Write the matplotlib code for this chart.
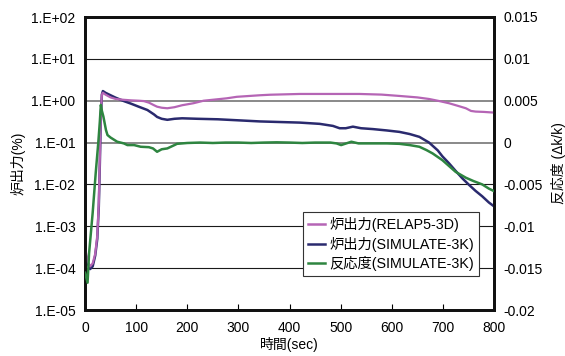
import matplotlib
matplotlib.use("Agg")
import matplotlib.pyplot as plt
from matplotlib.lines import Line2D
from matplotlib.ticker import FixedLocator, NullLocator

plt.rcParams['font.family'] = ['Liberation Sans', 'Noto Sans CJK JP', 'DejaVu Sans']

# Reactor power, RELAP5-3D (%)
t_relap = [0, 5, 10, 15, 20, 24, 27, 29, 31, 33, 35, 40, 50, 60, 76, 90, 105, 115,
           125, 135, 141, 150, 161, 175, 190, 212, 232, 277, 297, 342, 362, 420,
           498, 537, 580, 615, 650, 673, 695, 712, 730, 745, 755, 764, 780, 800]
p_relap = [3e-4, 1.5e-4, 1.1e-4, 1.3e-4, 2.2e-4, 6e-4, 3.5e-3, 4e-2, 0.5, 1.4, 1.55,
           1.4, 1.2, 1.1, 1.05, 1.02, 1.0, 0.98, 0.9, 0.78, 0.72, 0.68, 0.66, 0.7,
           0.78, 0.87, 1.0, 1.14, 1.24, 1.35, 1.39, 1.45, 1.45, 1.45, 1.4, 1.3,
           1.2, 1.1, 0.97, 0.87, 0.75, 0.66, 0.57, 0.55, 0.54, 0.52]

# Reactor power, SIMULATE-3K (%)
t_sim = [0, 5, 10, 15, 20, 24, 27, 29, 31, 33, 35, 40, 50, 60, 76, 90, 105, 122,
         135, 141, 150, 161, 175, 190, 220, 260, 300, 342, 380, 420, 459, 485,
         498, 510, 524, 540, 563, 590, 615, 635, 654, 673, 690, 699, 712, 725,
         738, 751, 764, 777, 790, 800]
p_sim = [2.5e-4, 1.3e-4, 9.5e-5, 1.1e-4, 2.0e-4, 5e-4, 3e-3, 3e-2, 0.4, 1.4, 1.7,
         1.55, 1.35, 1.18, 0.98, 0.85, 0.72, 0.6, 0.47, 0.41, 0.37, 0.35, 0.37,
         0.38, 0.37, 0.36, 0.34, 0.32, 0.31, 0.30, 0.28, 0.25, 0.22, 0.22, 0.24,
         0.22, 0.21, 0.195, 0.18, 0.16, 0.137, 0.10, 0.065, 0.047, 0.032, 0.021,
         0.014, 0.0098, 0.007, 0.0052, 0.0037, 0.003]

# Reactivity, SIMULATE-3K (dk/k)
t_rho = [0, 5, 8, 15, 21, 26, 29, 31, 33, 36, 41, 44, 50, 63, 76, 83, 96, 109, 125,
         133, 141, 150, 161, 175, 180, 200, 225, 250, 275, 300, 325, 350, 375, 400,
         425, 450, 480, 492, 501, 511, 521, 535, 560, 590, 615, 635, 654, 668,
         680, 699, 712, 725, 745, 760, 777, 790, 800]
rho = [-0.01555, -0.01674, -0.0132, -0.0084, -0.0036, 0.0, 0.0025, 0.0045, 0.0038,
       0.0031, 0.0015, 0.0009, 0.0006, 0.0001, -0.0001, -0.0003, -0.0003, -0.0005,
       -0.00055, -0.0007, -0.0011, -0.0008, -0.0007, -0.0003, -0.00015, -0.00005,
       0.0, -0.00005, 0.0, 0.0, -0.00005, 0.0, 0.00003, 0.0, -0.00005, 0.0, 0.0,
       -0.0001, -0.0003, -0.0001, 0.0001, -0.0001, -0.0001, -0.0001, -0.00015,
       -0.0003, -0.0005, -0.0009, -0.0013, -0.0021, -0.0028, -0.0035, -0.0042,
       -0.0046, -0.005, -0.0055, -0.0058]

x_ticks = [0, 100, 200, 300, 400, 500, 600, 700, 800]
left_ticks = [1e-5, 1e-4, 1e-3, 1e-2, 1e-1, 1e0, 1e1, 1e2]
left_labels = ["1.E-05", "1.E-04", "1.E-03", "1.E-02", "1.E-01", "1.E+00",
               "1.E+01", "1.E+02"]
right_ticks = [-0.02, -0.015, -0.01, -0.005, 0.0, 0.005, 0.01, 0.015]
right_labels = ["-0.02", "-0.015", "-0.01", "-0.005", "0", "0.005", "0.01", "0.015"]

labels = ["炉出力(RELAP5-3D)", "炉出力(SIMULATE-3K)", "反応度(SIMULATE-3K)"]
colors = ["#B565B5", "#2A2A6E", "#2E8540"]

fig = plt.figure(figsize=(5.65, 3.56), dpi=100)
ax = fig.add_axes([85 / 565, 1 - 310 / 356, 409 / 565, 293 / 356])
ax2 = ax.twinx()

# horizontal reference lines at each decade
for v in left_ticks[1:-1]:
    if v in (1e0, 1e-1):
        ax.axhline(v, color="#808080", lw=1.3, zorder=1)
    else:
        ax.axhline(v, color="#1a1a1a", lw=0.8, zorder=1)

ax.plot(t_sim, p_sim, color=colors[1], lw=1.8, zorder=3)
ax.plot(t_relap, p_relap, color=colors[0], lw=1.6, zorder=4)
ax2.plot(t_rho, rho, color=colors[2], lw=1.8, zorder=3)

ax.set_yscale("log")
ax.set_ylim(1e-5, 1e2)
ax.set_xlim(0, 800)
ax2.set_ylim(-0.02, 0.015)

ax.xaxis.set_major_locator(FixedLocator(x_ticks))
ax.set_xticklabels([str(v) for v in x_ticks])
ax.yaxis.set_major_locator(FixedLocator(left_ticks))
ax.yaxis.set_minor_locator(NullLocator())
ax.set_yticklabels(left_labels)
ax2.yaxis.set_major_locator(FixedLocator(right_ticks))
ax2.set_yticklabels(right_labels)

ax.tick_params(axis="x", direction="in", length=4, width=0.8, labelsize=10, pad=8)
ax.tick_params(axis="y", length=0, labelsize=10, pad=7)
ax2.tick_params(axis="y", length=0, labelsize=10, pad=7)

for a in (ax, ax2):
    for s in a.spines.values():
        s.set_linewidth(2.0)
        s.set_color("#111111")

ax.set_xlabel("時間(sec)", fontsize=10, labelpad=1)
ax.set_ylabel("炉出力(%)", fontsize=10, labelpad=4)
ax2.set_ylabel("反応度 (Δk/k)", fontsize=10, labelpad=6)

handles = [Line2D([], [], color=c, lw=1.8) for c in colors]
leg = ax2.legend(handles, labels, loc="lower left", bbox_to_anchor=(0.533, 0.116),
                 borderaxespad=0, fontsize=10.3, handlelength=1.2, handletextpad=0.3,
                 labelspacing=0.3, borderpad=0.35, frameon=True, fancybox=False,
                 edgecolor="#333333", framealpha=1)
leg.get_frame().set_linewidth(0.8)

fig.savefig("out.png", dpi=100)
